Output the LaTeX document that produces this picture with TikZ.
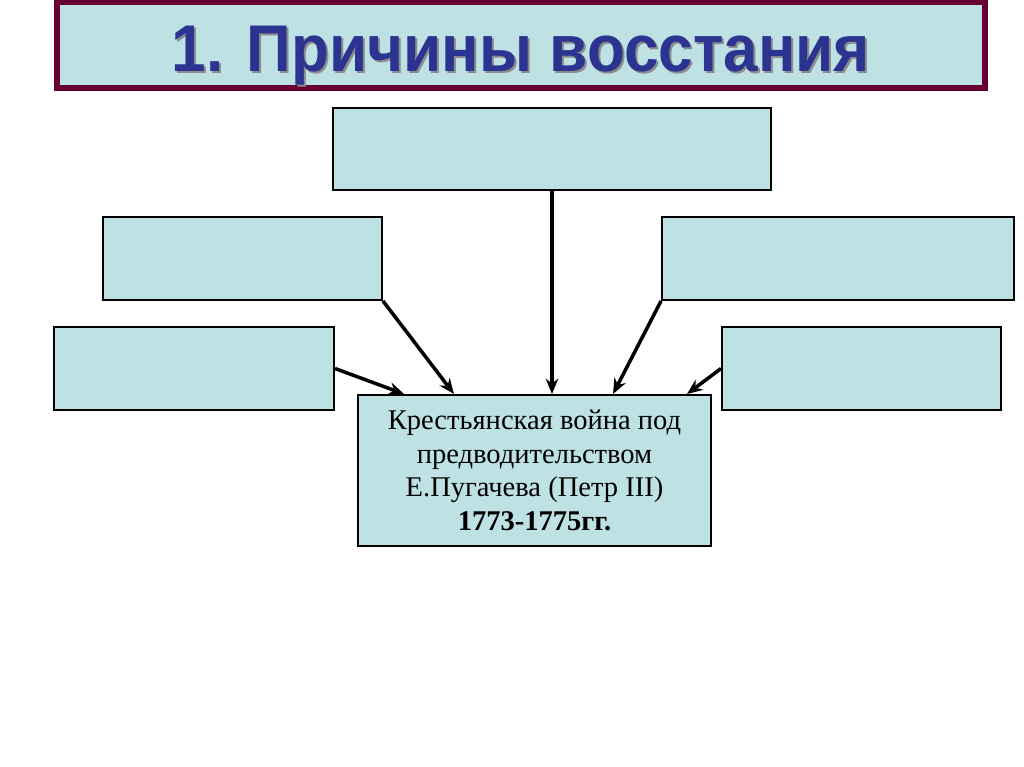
\documentclass[tikz,border=0pt]{standalone}
\usepackage{fontspec}
\setmainfont{Liberation Serif}
\newfontfamily\titlefont{Liberation Sans}
\usetikzlibrary{positioning, arrows.meta, calc}
\definecolor{boxfill}{RGB}{190,226,228}
\definecolor{framered}{RGB}{102,0,51}
\definecolor{titleblue}{RGB}{44,52,145}
\tikzset{
  causebox/.style = {draw=black, fill=boxfill, line width=1.4pt,
                     minimum width=7cm, minimum height=2.075cm},
  warbox/.style   = {draw=black, fill=boxfill, line width=1.4pt,
                     minimum width=8.825cm, minimum height=3.775cm,
                     align=center, font=\fontsize{20.3}{23.8}\selectfont},
  titlebox/.style = {draw=framered, fill=boxfill, line width=3.6pt,
                     minimum width=23.2cm, minimum height=2.15cm},
  titlefnt/.style = {font=\titlefont\bfseries\fontsize{47}{50}\selectfont},
  causearr/.style = {-{Stealth[length=11pt,width=9pt]}, line width=2.5pt, black},
}
\begin{document}
\begin{tikzpicture}
  \useasboundingbox (0,0) rectangle (25.6,-19.175);
  % title
  \node[titlebox] (title) at (13.025,-1.125) {};
  \node[titlefnt, text=black!45]
    (titleshadow) at (13.075,-1.45) {\scalebox{0.94}[1]{1. Причины восстания}};
  \node[titlefnt, text=titleblue]
    (titletext) at (13.025,-1.4) {\scalebox{0.94}[1]{1. Причины восстания}};
  % empty cause boxes
  \node[causebox, minimum width=10.95cm, minimum height=2.05cm] (top) at (13.8,-3.725) {};
  \node[causebox, minimum width=6.975cm] (lu) at (6.0625,-6.4625) {};
  \node[causebox, minimum width=8.8cm] (ru) at (20.95,-6.4625) {};
  \node[causebox] (ll) at (4.85,-9.2125) {};
  \node[causebox, minimum width=6.975cm] (rl) at (21.5375,-9.2125) {};
  % the war
  \node[warbox] (war) at (13.3625,-11.7625)
    {Крестьянская война под\\предводительством\\Е.Пугачева (Петр III)\\\textbf{1773-1775гг.}};
  \coordinate (inll) at ($(war.north west)+(1.175,0)$);
  \coordinate (inlu) at ($(war.north west)+(2.425,0)$);
  \coordinate (inru) at ($(war.north west)+(6.4,0)$);
  \coordinate (inrl) at ($(war.north west)+(8.25,0)$);
  \draw[causearr] (top.south) -- (top.south |- war.north);
  \draw[causearr] (lu.south east) -- (inlu);
  \draw[causearr] (ll.east) -- (inll);
  \draw[causearr] (ru.south west) -- (inru);
  \draw[causearr] (rl.west) -- (inrl);
\end{tikzpicture}
\end{document}
